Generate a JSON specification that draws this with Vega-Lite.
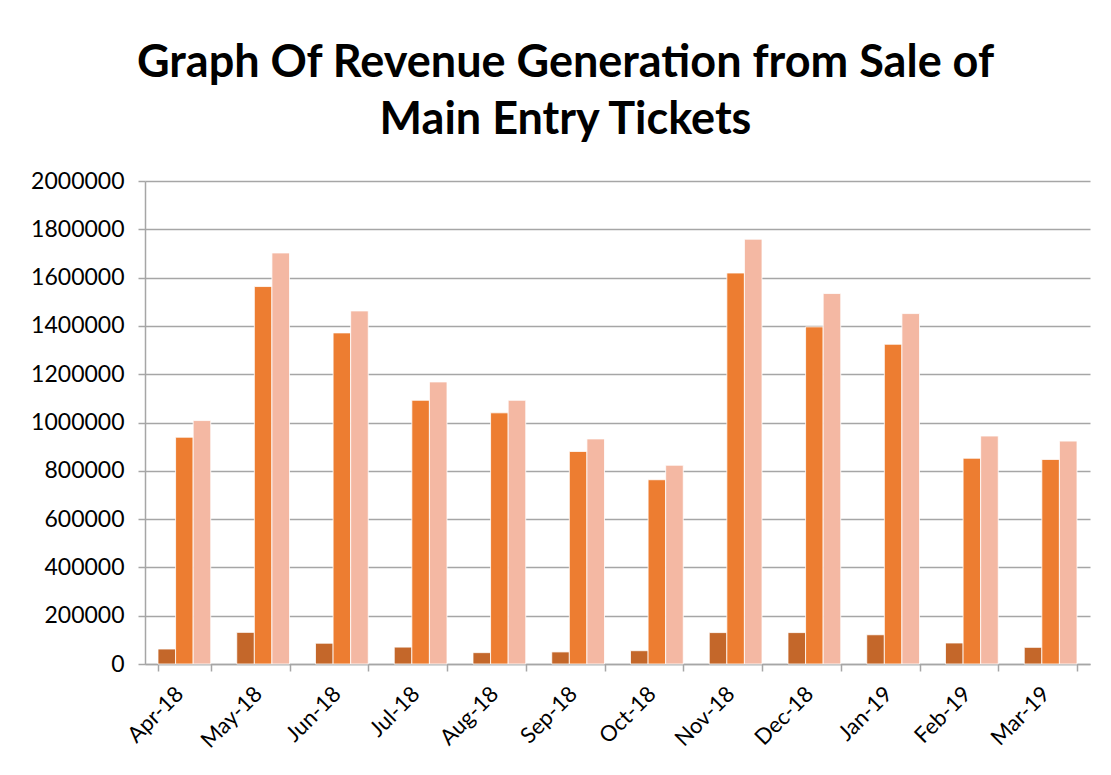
{
  "$schema": "https://vega.github.io/schema/vega-lite/v6.json",
  "autosize": {"type": "none"},
  "padding": {"left": 145, "top": 181, "right": 21, "bottom": 111},
  "width": 945,
  "height": 483,
  "background": "white",
  "title": {
    "text": ["Graph Of Revenue Generation from Sale of", "Main Entry Tickets"],
    "font": "Lato",
    "fontSize": 45,
    "fontWeight": "bold",
    "color": "black",
    "anchor": "middle",
    "dx": -52,
    "lineHeight": 57,
    "offset": 27
  },
  "data": {
    "values": [
      {"month": "Apr-18", "series": "Series 1", "value": 62000},
      {"month": "Apr-18", "series": "Series 2", "value": 939000},
      {"month": "Apr-18", "series": "Series 3", "value": 1008000},
      {"month": "May-18", "series": "Series 1", "value": 131000},
      {"month": "May-18", "series": "Series 2", "value": 1563000},
      {"month": "May-18", "series": "Series 3", "value": 1702000},
      {"month": "Jun-18", "series": "Series 1", "value": 86000},
      {"month": "Jun-18", "series": "Series 2", "value": 1371000},
      {"month": "Jun-18", "series": "Series 3", "value": 1462000},
      {"month": "Jul-18", "series": "Series 1", "value": 70000},
      {"month": "Jul-18", "series": "Series 2", "value": 1092000},
      {"month": "Jul-18", "series": "Series 3", "value": 1168000},
      {"month": "Aug-18", "series": "Series 1", "value": 47000},
      {"month": "Aug-18", "series": "Series 2", "value": 1040000},
      {"month": "Aug-18", "series": "Series 3", "value": 1092000},
      {"month": "Sep-18", "series": "Series 1", "value": 50000},
      {"month": "Sep-18", "series": "Series 2", "value": 880000},
      {"month": "Sep-18", "series": "Series 3", "value": 932000},
      {"month": "Oct-18", "series": "Series 1", "value": 55000},
      {"month": "Oct-18", "series": "Series 2", "value": 763000},
      {"month": "Oct-18", "series": "Series 3", "value": 823000},
      {"month": "Nov-18", "series": "Series 1", "value": 130000},
      {"month": "Nov-18", "series": "Series 2", "value": 1619000},
      {"month": "Nov-18", "series": "Series 3", "value": 1759000},
      {"month": "Dec-18", "series": "Series 1", "value": 130000},
      {"month": "Dec-18", "series": "Series 2", "value": 1396000},
      {"month": "Dec-18", "series": "Series 3", "value": 1534000},
      {"month": "Jan-19", "series": "Series 1", "value": 121000},
      {"month": "Jan-19", "series": "Series 2", "value": 1324000},
      {"month": "Jan-19", "series": "Series 3", "value": 1451000},
      {"month": "Feb-19", "series": "Series 1", "value": 87000},
      {"month": "Feb-19", "series": "Series 2", "value": 852000},
      {"month": "Feb-19", "series": "Series 3", "value": 944000},
      {"month": "Mar-19", "series": "Series 1", "value": 69000},
      {"month": "Mar-19", "series": "Series 2", "value": 847000},
      {"month": "Mar-19", "series": "Series 3", "value": 923000}
    ]
  },
  "mark": {"type": "bar", "stroke": "white", "strokeWidth": 0.8},
  "encoding": {
    "x": {
      "field": "month",
      "type": "nominal",
      "sort": null,
      "title": null,
      "scale": {"paddingInner": 0.33, "paddingOuter": 0.165},
      "axis": {
        "labelAngle": -45,
        "labelFont": "Lato",
        "labelFontSize": 22,
        "labelColor": "black",
        "labelPadding": 12,
        "labelOffset": -12,
        "tickBand": "extent",
        "tickSize": 7,
        "tickColor": "#a6a6a6",
        "tickWidth": 1.5,
        "domainColor": "#a6a6a6",
        "domainWidth": 1.5
      }
    },
    "xOffset": {"field": "series", "type": "nominal", "sort": null},
    "y": {
      "field": "value",
      "type": "quantitative",
      "title": null,
      "scale": {"domain": [0, 2000000], "nice": false},
      "axis": {
        "values": [0, 200000, 400000, 600000, 800000, 1000000, 1200000, 1400000, 1600000, 1800000, 2000000],
        "format": "d",
        "labelFont": "Lato",
        "labelFontSize": 23,
        "labelColor": "black",
        "labelPadding": 14,
        "tickSize": 7,
        "tickColor": "#a6a6a6",
        "tickWidth": 1.5,
        "domainColor": "#a6a6a6",
        "domainWidth": 1.5,
        "grid": true,
        "gridColor": "#a6a6a6",
        "gridWidth": 1.5
      }
    },
    "color": {
      "field": "series",
      "type": "nominal",
      "sort": null,
      "legend": null,
      "scale": {
        "domain": ["Series 1", "Series 2", "Series 3"],
        "range": ["#c4672a", "#ed7d31", "#f4b8a3"]
      }
    }
  },
  "config": {"view": {"stroke": null}}
}
